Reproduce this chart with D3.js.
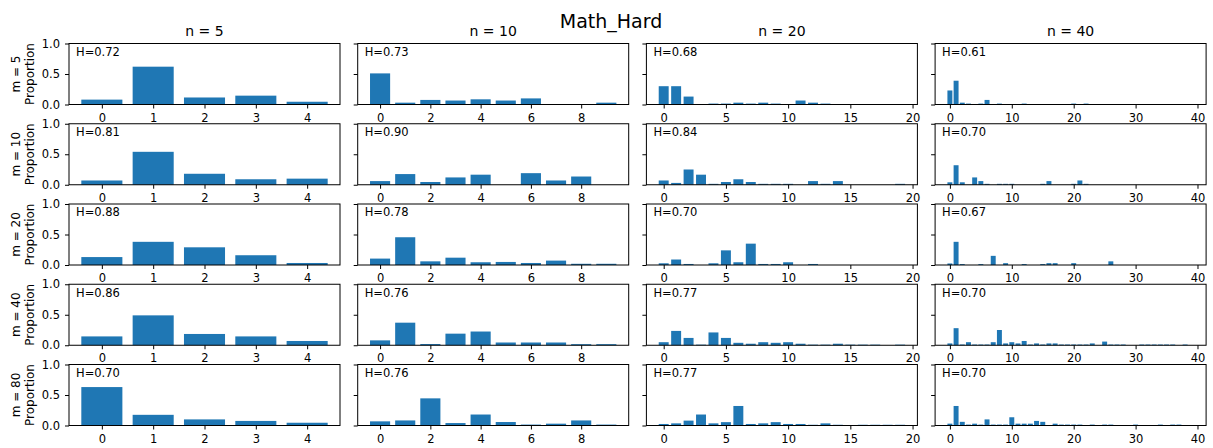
<!DOCTYPE html>
<html>
<head>
<meta charset="utf-8">
<script src="https://cdn.jsdelivr.net/npm/d3@7"></script>
<style>
    body { margin: 0; background: #fff; }
    text { font-family: "DejaVu Sans", sans-serif; fill: #000; }
    .tick line { stroke: #000; }
</style>
</head>
<body>
<div id="chart-container"></div>
<script>
//Chart values
var title = "Math_Hard";
var nValues = [5, 10, 20, 40];
var mValues = [5, 10, 20, 40, 80];
var yTicks = [0, 0.5, 1.0];
var xTicks = [[0, 1, 2, 3, 4], [0, 2, 4, 6, 8], [0, 5, 10, 15, 20], [0, 10, 20, 30, 40]];

//entropy label per row (m), one per column (n)
var hM5 = [0.72, 0.73, 0.68, 0.61];
var hM10 = [0.81, 0.90, 0.84, 0.70];
var hM20 = [0.88, 0.78, 0.70, 0.67];
var hM40 = [0.86, 0.76, 0.77, 0.70];
var hM80 = [0.70, 0.76, 0.77, 0.70];

//proportions per row (m), one list per column (n)
var propsM5 = [
    [0.08, 0.62, 0.115, 0.145, 0.045],
    [0.51, 0.03, 0.075, 0.065, 0.085, 0.065, 0.10, 0, 0, 0.03],
    [0.30, 0.30, 0.13, 0, 0.015, 0.015, 0.03, 0.015, 0.03, 0.015,
     0, 0.065, 0.03, 0.015, 0, 0, 0, 0, 0, 0],
    [0.23, 0.39, 0.03, 0.015, 0, 0.015, 0.075, 0, 0.015, 0,
     0, 0, 0.015, 0, 0, 0, 0, 0, 0, 0,
     0.015, 0, 0.015, 0, 0, 0, 0, 0, 0, 0,
     0, 0, 0, 0, 0, 0, 0, 0, 0, 0]
];
var propsM10 = [
    [0.07, 0.54, 0.18, 0.09, 0.10],
    [0.06, 0.175, 0.045, 0.12, 0.165, 0, 0.19, 0.07, 0.135, 0],
    [0.07, 0.03, 0.25, 0.165, 0.015, 0.045, 0.09, 0.045, 0.015, 0.015,
     0.015, 0, 0.06, 0.015, 0.06, 0, 0, 0, 0, 0.015],
    [0.04, 0.32, 0.04, 0, 0.12, 0.06, 0.015, 0, 0.015, 0.015,
     0.015, 0, 0, 0, 0, 0.015, 0.06, 0, 0, 0,
     0.015, 0.07, 0.015, 0, 0, 0, 0, 0, 0, 0,
     0, 0, 0, 0, 0, 0, 0, 0, 0, 0]
];
var propsM20 = [
    [0.13, 0.38, 0.29, 0.16, 0.033],
    [0.105, 0.455, 0.06, 0.12, 0.045, 0.05, 0.033, 0.072, 0.02, 0.02],
    [0.028, 0.09, 0.017, 0, 0.028, 0.24, 0.045, 0.35, 0.017, 0.017,
     0.045, 0, 0.017, 0, 0, 0, 0, 0, 0, 0],
    [0.025, 0.38, 0.015, 0, 0, 0.015, 0, 0.15, 0, 0.03,
     0, 0, 0.015, 0, 0, 0.015, 0.03, 0.03, 0, 0,
     0.03, 0, 0, 0, 0, 0, 0.06, 0, 0, 0,
     0, 0, 0, 0, 0, 0, 0, 0, 0, 0]
];
var propsM40 = [
    [0.145, 0.49, 0.185, 0.145, 0.07],
    [0.08, 0.37, 0.02, 0.19, 0.225, 0.045, 0.045, 0.045, 0.018, 0.018],
    [0.05, 0.235, 0.12, 0.01, 0.21, 0.12, 0.04, 0.025, 0.05, 0.04,
     0.05, 0.025, 0.01, 0.01, 0.025, 0.01, 0.01, 0.01, 0, 0.01],
    [0.03, 0.28, 0.012, 0.05, 0.012, 0.012, 0.012, 0.05, 0.25, 0.03,
     0.05, 0.03, 0.07, 0.012, 0.03, 0.012, 0.03, 0.03, 0.012, 0.012,
     0.012, 0.012, 0.012, 0.03, 0, 0.06, 0.012, 0.012, 0.012, 0,
     0, 0.012, 0.012, 0.012, 0.012, 0.012, 0.012, 0, 0.012, 0]
];
var propsM80 = [
    [0.63, 0.175, 0.10, 0.075, 0.045],
    [0.068, 0.083, 0.445, 0.04, 0.18, 0.057, 0.015, 0.03, 0.083, 0.015],
    [0.025, 0.035, 0.08, 0.18, 0.035, 0.055, 0.32, 0.025, 0.035, 0.055,
     0.025, 0.025, 0.012, 0.035, 0.012, 0, 0.012, 0.012, 0.012, 0.012],
    [0.03, 0.32, 0.06, 0.015, 0.03, 0.015, 0.10, 0.015, 0.015, 0.015,
     0.135, 0.03, 0.03, 0.03, 0.075, 0.06, 0, 0.03, 0.015, 0.015,
     0.015, 0.015, 0, 0.015, 0, 0.015, 0.015, 0, 0, 0,
     0.015, 0, 0, 0, 0.015, 0, 0.015, 0.015, 0, 0]
];

var props = [propsM5, propsM10, propsM20, propsM40, propsM80];
var hVals = [hM5, hM10, hM20, hM40, hM80];

//Layout
var w = 1213;
var h = 448;
var left0 = 69, colStep = 288.7, panelW = 271;
var top0 = 43.5, rowStep = 80.25, panelH = 61;
var barColor = "#1f77b4";

var svg = d3.select("#chart-container").append("svg")
    .attr("width", w).attr("height", h);

svg.append("text")
    .attr("x", 611).attr("y", 27.5)
    .attr("text-anchor", "middle")
    .style("font-size", "19px")
    .text(title);

var yScale = d3.scaleLinear().domain([0, 1]).range([panelH, 0]);

mValues.forEach(function(m, r){
    nValues.forEach(function(n, c){
        var data = props[r][c];
        var x0 = left0 + c * colStep;
        var y0 = top0 + r * rowStep;
        var span = (n - 1) + 0.8;
        var xScale = d3.scaleLinear()
            .domain([-0.4 - 0.05 * span, n - 1 + 0.4 + 0.05 * span])
            .range([0, panelW]);

        var g = svg.append("g")
            .attr("transform", "translate(" + x0 + "," + y0 + ")");

        //bars
        g.selectAll("rect.bar")
            .data(data)
            .enter()
            .append("rect")
            .attr("class", "bar")
            .attr("x", function(d, i){ return xScale(i - 0.4); })
            .attr("y", function(d){ return yScale(d); })
            .attr("width", xScale(0.8) - xScale(0))
            .attr("height", function(d){ return yScale(0) - yScale(d); })
            .attr("fill", barColor);

        //x axis
        var xAxis = d3.axisBottom(xScale)
            .tickValues(xTicks[c])
            .tickFormat(d3.format("d"))
            .tickSize(4).tickPadding(5);
        var gx = g.append("g")
            .attr("transform", "translate(0," + panelH + ")")
            .call(xAxis);
        gx.select(".domain").remove();
        gx.selectAll("text").style("font-size", "11.5px").attr("fill", "#000");

        //y axis, labels only in first column
        var yAxis = d3.axisLeft(yScale)
            .tickValues(yTicks)
            .tickFormat(c === 0 ? d3.format(".1f") : "")
            .tickSize(4).tickPadding(5);
        var gy = g.append("g").call(yAxis);
        gy.select(".domain").remove();
        gy.selectAll("text").style("font-size", "11.5px").attr("fill", "#000");

        //frame
        g.append("rect")
            .attr("width", panelW).attr("height", panelH)
            .attr("fill", "none")
            .attr("stroke", "#000")
            .attr("stroke-width", 1);

        //entropy text
        g.append("text")
            .attr("x", 7).attr("y", 12.3)
            .style("font-size", "11.5px")
            .text("H=" + hVals[r][c].toFixed(2));

        //column titles
        if(r === 0){
            g.append("text")
                .attr("x", panelW / 2).attr("y", -7.5)
                .attr("text-anchor", "middle")
                .style("font-size", "14px")
                .text("n = " + n);
        }

        //row labels
        if(c === 0){
            var cy = y0 + panelH / 2;
            svg.append("text")
                .attr("transform", "translate(20," + cy + ") rotate(-90)")
                .attr("text-anchor", "middle")
                .style("font-size", "12px")
                .text("m = " + m);
            svg.append("text")
                .attr("transform", "translate(33.8," + cy + ") rotate(-90)")
                .attr("text-anchor", "middle")
                .style("font-size", "12px")
                .text("Proportion");
        }
    });
});
</script>
</body>
</html>
